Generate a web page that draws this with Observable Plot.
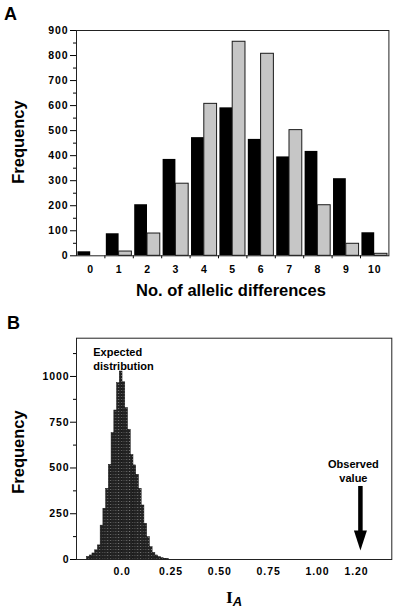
<!DOCTYPE html>
<html><head><meta charset="utf-8">
<script src="https://cdn.jsdelivr.net/npm/d3@7"></script>
<script src="https://cdn.jsdelivr.net/npm/@observablehq/plot@0.6"></script>
<style>
body{margin:0;background:#fff;}
#wrap{width:400px;height:611px;overflow:hidden;}
#wrap svg{display:block;}
g[aria-label$="tick label"]{letter-spacing:0.9px;}
</style></head><body><div id="wrap"></div>
<script>
// ---------- Panel A data ----------
const differences = [0, 1, 2, 3, 4, 5, 6, 7, 8, 9, 10];
const freqBlack   = [16, 88, 204, 385, 472, 591, 465, 395, 417, 308, 92];
const freqGray    = [0, 17, 89, 288, 607, 855, 807, 502, 202, 48, 8];
const freqTicksA  = [0, 100, 200, 300, 400, 500, 600, 700, 800, 900];
const freqMinorA  = [50, 150, 250, 350, 450, 550, 650, 750, 850];

// ---------- Panel B data ----------
const iaEdges  = [-0.180, -0.166, -0.152, -0.138, -0.124, -0.110, -0.096, -0.082, -0.068, -0.054,
                  -0.040, -0.026, -0.012, 0.002, 0.016, 0.030, 0.044, 0.058, 0.072, 0.086,
                  0.100, 0.114, 0.128, 0.142, 0.156, 0.170, 0.184, 0.198, 0.212, 0.226, 0.240];
const iaCounts = [14, 22, 33, 50, 77, 185, 277, 386, 517, 690,
                  814, 963, 1027, 968, 827, 709, 570, 514, 463, 386,
                  295, 195, 122, 67, 36, 22, 13, 7, 4, 2];
const freqTicksB = [0, 250, 500, 750, 1000];
const freqMinorB = [125, 375, 625, 875, 1125];
const iaTicks      = [0, 0.25, 0.5, 0.75, 1.0, 1.2];
const iaTickLabels = ["0.0", "0.25", "0.50", "0.75", "1.00", "1.20"];
const observedIA = 1.22;
const arrowFreq = {top: 399, tip: 49};
const noteExpected = {x: -0.148, y: 1166, text: "Expected\ndistribution"};
const noteObserved = {y: 553, text: "Observed\nvalue"};

const FONT = 'Arial, "Liberation Sans", Helvetica, sans-serif';
const wrap = document.getElementById("wrap");
const plain = d => String(d);

// ---------- Panel A ----------
const boundaries = differences.slice(0, -1).map(d => d + 0.5);
const rowsA = differences.map((d, i) => ({k: d, black: freqBlack[i], gray: freqGray[i]}));

const plotA = Plot.plot({
  width: 400, height: 305,
  marginLeft: 76, marginRight: 11.6, marginTop: 30, marginBottom: 49.7,
  x: {domain: [-0.5, 10.5]},
  y: {domain: [0, 900]},
  style: {fontFamily: FONT, fontSize: "10.5px", fontWeight: "bold", color: "#000", background: "transparent", overflow: "visible"},
  marks: [
    Plot.rectY(rowsA, {x1: d => d.k - 0.45, x2: d => d.k, y: "black", fill: "#000"}),
    Plot.rectY(rowsA, {x1: d => d.k, x2: d => d.k + 0.45, y: "gray", fill: "#c6c6c6", stroke: "#1a1a1a", strokeWidth: 1}),
    Plot.axisY(freqTicksA, {tickSize: 6, tickPadding: 2, tickFormat: plain, label: null}),
    Plot.axisY(freqMinorA, {tickSize: 3, tickFormat: () => "", label: null}),
    Plot.axisX(differences, {tickSize: 0, tickPadding: 10, tickFormat: plain, label: null}),
    Plot.axisX(boundaries, {tickSize: 3, tickFormat: () => "", label: null}),
    Plot.frame({stroke: "#222"})
  ]
});
wrap.appendChild(plotA);

// ---------- Panel B ----------
const bins = iaCounts.map((n, i) => ({x1: iaEdges[i], x2: iaEdges[i + 1], n}));
const headSymbol = {draw(ctx) { ctx.moveTo(-6.5, -20); ctx.lineTo(6.5, -20); ctx.lineTo(0, 0); ctx.closePath(); }};

const plotB = Plot.plot({
  width: 400, height: 306,
  marginLeft: 76, marginRight: 8.7, marginTop: 32.7, marginBottom: 52,
  x: {domain: [-0.2337, 1.3807]},
  y: {domain: [0, 1209]},
  style: {fontFamily: FONT, fontSize: "10.5px", fontWeight: "bold", color: "#000", background: "transparent", overflow: "visible"},
  marks: [
    Plot.rectY(bins, {x1: "x1", x2: "x2", y: "n", fill: "url(#dots)", stroke: "#111", strokeWidth: 0.5}),
    Plot.axisY(freqTicksB, {tickSize: 6, tickPadding: 1, tickFormat: plain, label: null}),
    Plot.axisY(freqMinorB, {tickSize: 3, tickFormat: () => "", label: null}),
    Plot.axisX(iaTicks, {tickSize: 0, tickPadding: 8, tickFormat: d => iaTickLabels[iaTicks.indexOf(d)], label: null}),
    Plot.frame({stroke: "#222"}),
    Plot.ruleX([observedIA], {y1: arrowFreq.tip + 60, y2: arrowFreq.top, stroke: "#000", strokeWidth: 4.5}),
    Plot.dot([observedIA], {x: d => d, y: arrowFreq.tip, symbol: headSymbol, fill: "#000", stroke: null}),
    Plot.text([noteExpected], {x: "x", y: "y", text: "text", textAnchor: "start", lineAnchor: "top", lineHeight: 1.27, fontSize: 11}),
    Plot.text([observedIA], {x: d => d, y: noteObserved.y, text: () => noteObserved.text, dx: -7, textAnchor: "middle", lineAnchor: "top", lineHeight: 1.24, fontSize: 11})
  ]
});
wrap.appendChild(plotB);

// pattern for the halftone histogram bars
const defs = d3.select(plotB).insert("defs", ":first-child");
const pat = defs.append("pattern").attr("id", "dots").attr("patternUnits", "userSpaceOnUse")
  .attr("width", 2.73).attr("height", 3);
pat.append("rect").attr("width", 2.73).attr("height", 3).attr("fill", "#222");
pat.append("rect").attr("x", 1).attr("y", 1).attr("width", 1).attr("height", 1).attr("fill", "#9a9a9a");

// ---------- titles / axis labels ----------
function addText(svg, x, y, str, size, opts = {}) {
  const t = d3.select(svg).append("text").attr("x", x).attr("y", y)
    .attr("font-family", opts.family || FONT).attr("font-weight", "bold")
    .attr("font-size", size).attr("text-anchor", opts.anchor || "start").attr("fill", "#000").text(str);
  if (opts.rotate) t.attr("transform", `rotate(-90 ${x} ${y})`);
  return t;
}
addText(plotA, 4, 20, "A", 18);
addText(plotA, 23.5, 142, "Frequency", 16.5, {anchor: "middle", rotate: true});
addText(plotA, 231, 296, "No. of allelic differences", 16.5, {anchor: "middle"});

addText(plotB, 7, 24, "B", 18);
addText(plotB, 23.5, 147, "Frequency", 16.5, {anchor: "middle", rotate: true});
const ia = d3.select(plotB).append("text").attr("x", 234).attr("y", 298.3).attr("text-anchor", "middle").attr("fill", "#000");
ia.append("tspan").attr("font-family", '"Liberation Serif", "Times New Roman", serif').attr("font-weight", "bold").attr("font-size", 17.5).text("I");
ia.append("tspan").attr("font-family", FONT).attr("font-weight", "bold").attr("font-style", "italic").attr("font-size", 13).attr("dy", 2.7).text("A");
</script>
</body></html>
